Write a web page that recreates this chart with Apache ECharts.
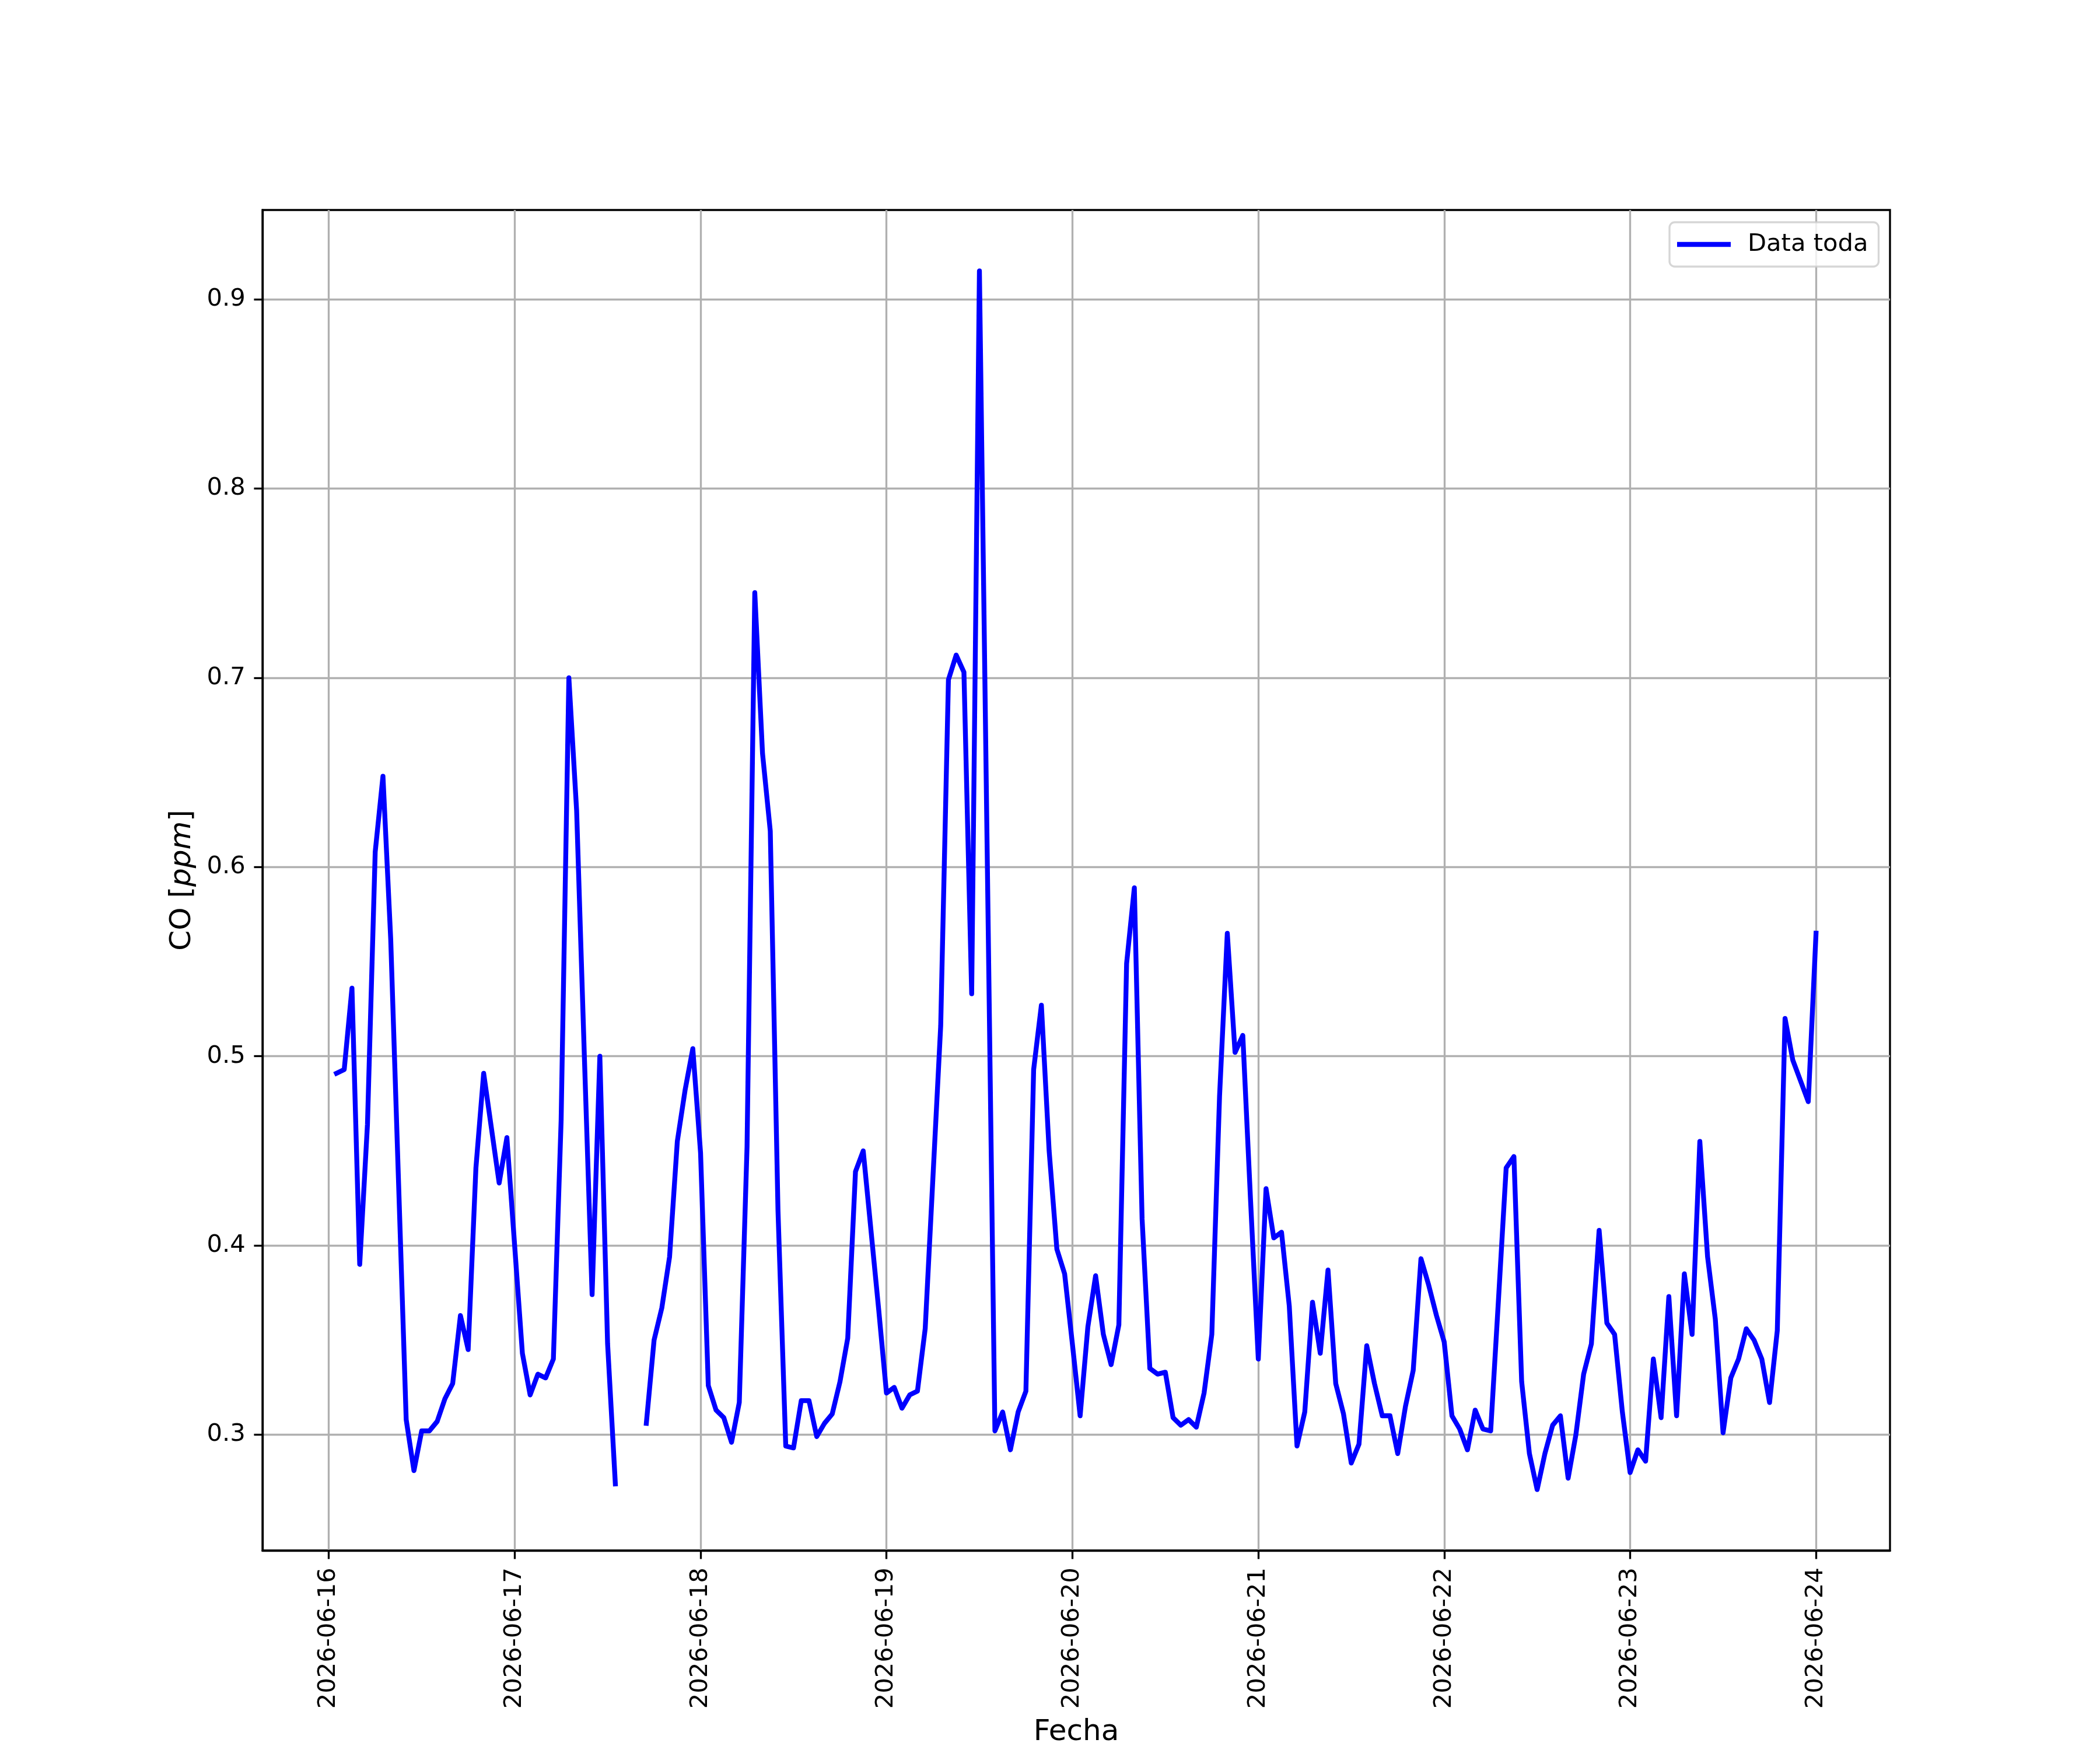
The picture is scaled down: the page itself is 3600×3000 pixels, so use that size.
<!DOCTYPE html>
<html>
<head>
<meta charset="utf-8">
<script src="https://cdn.jsdelivr.net/npm/echarts@6/dist/echarts.min.js"></script>
<style>
  html, body { margin: 0; padding: 0; background: #ffffff; }
  #chart { width: 3600px; height: 3000px; }
</style>
</head>
<body>
<div id="chart"></div>
<script>
// ---- Data: hourly CO readings [ppm], first reading 2026-06-16 01:00, one value per hour ----
const seriesName = 'Data toda';
const firstHour = 1; // hours after 2026-06-16 00:00 of the first reading
const co_0616 = [0.491, 0.493, 0.536, 0.390, 0.464, 0.608, 0.648, 0.562, 0.435, 0.308, 0.281, 0.302,
                 0.302, 0.307, 0.319, 0.327, 0.363, 0.345, 0.441, 0.491, 0.462, 0.433, 0.457, 0.400];
const co_0617 = [0.343, 0.321, 0.332, 0.330, 0.340, 0.466, 0.700, 0.630, 0.500, 0.374, 0.500, 0.348,
                 0.274, null, null, null, 0.306, 0.350, 0.367, 0.394, 0.455, 0.482, 0.504, 0.449];
const co_0618 = [0.326, 0.313, 0.309, 0.296, 0.317, 0.452, 0.745, 0.660, 0.619, 0.418, 0.294, 0.293,
                 0.318, 0.318, 0.299, 0.306, 0.311, 0.328, 0.351, 0.439, 0.450, 0.408, 0.366, 0.322];
const co_0619 = [0.325, 0.314, 0.321, 0.323, 0.356, 0.436, 0.516, 0.699, 0.712, 0.703, 0.533, 0.915,
                 0.609, 0.302, 0.312, 0.292, 0.312, 0.323, 0.493, 0.527, 0.450, 0.398, 0.385, 0.348];
const co_0620 = [0.310, 0.357, 0.384, 0.353, 0.337, 0.358, 0.549, 0.589, 0.414, 0.335, 0.332, 0.333,
                 0.309, 0.305, 0.308, 0.304, 0.322, 0.353, 0.479, 0.565, 0.502, 0.511, 0.424, 0.340];
const co_0621 = [0.430, 0.404, 0.407, 0.368, 0.294, 0.312, 0.370, 0.343, 0.387, 0.327, 0.311, 0.285,
                 0.295, 0.347, 0.327, 0.310, 0.310, 0.290, 0.315, 0.334, 0.393, 0.379, 0.363, 0.349];
const co_0622 = [0.310, 0.303, 0.292, 0.313, 0.303, 0.302, 0.371, 0.441, 0.447, 0.328, 0.290, 0.271,
                 0.290, 0.305, 0.310, 0.277, 0.300, 0.332, 0.348, 0.408, 0.359, 0.353, 0.312, 0.280];
const co_0623 = [0.292, 0.286, 0.340, 0.309, 0.373, 0.310, 0.385, 0.353, 0.455, 0.394, 0.361, 0.301,
                 0.330, 0.340, 0.356, 0.350, 0.340, 0.317, 0.355, 0.520, 0.498, 0.487, 0.476, 0.565];

// ---- Axis tick labels ----
const xTickLabels = ['2026-06-16', '2026-06-17', '2026-06-18', '2026-06-19', '2026-06-20',
                     '2026-06-21', '2026-06-22', '2026-06-23', '2026-06-24'];
const yTickValues = [0.3, 0.4, 0.5, 0.6, 0.7, 0.8, 0.9];
const xTickValues = xTickLabels.map((_, i) => i); // days after 2026-06-16 00:00

const xTitle = 'Fecha';

// ---- Build series data (x = days after 2026-06-16 00:00) ----
const allValues = [].concat(co_0616, co_0617, co_0618, co_0619, co_0620, co_0621, co_0622, co_0623);
const seriesData = allValues.map((v, i) => [(firstHour + i) / 24, v]);

// matplotlib-like 5% margins
const xs = seriesData.map(d => d[0]);
const ys = allValues.filter(v => v != null);
const xMinD = Math.min(...xs), xMaxD = Math.max(...xs);
const yMinD = Math.min(...ys), yMaxD = Math.max(...ys);
const xPad = (xMaxD - xMinD) * 0.05;
const yPad = (yMaxD - yMinD) * 0.05;

const FONT = 'DejaVu Sans';
const PT = 300 / 72; // px per point at 300 dpi

const chart = echarts.init(document.getElementById('chart'), null, { renderer: 'canvas', devicePixelRatio: 1 });

chart.setOption({
  animation: false,
  backgroundColor: '#ffffff',
  textStyle: { fontFamily: FONT },
  grid: {
    left: 450, top: 360, width: 2790, height: 2310,
    show: true, borderColor: '#000000', borderWidth: 0.8 * PT, backgroundColor: 'transparent'
  },
  legend: {
    data: [seriesName],
    left: 2862, top: 381,
    orient: 'vertical',
    icon: 'rect',
    itemWidth: 92, itemHeight: 2 * PT,
    padding: [13, 18, 13, 13],
    backgroundColor: 'rgba(255,255,255,0.8)',
    borderColor: 'rgba(204,204,204,0.8)',
    borderWidth: 0.8 * PT,
    borderRadius: 9,
    textStyle: { fontFamily: FONT, fontSize: 10 * PT, color: '#000000', lineHeight: 50, padding: [0, 0, 0, 24] }
  },
  xAxis: {
    type: 'value',
    min: xMinD - xPad,
    max: xMaxD + xPad,
    splitNumber: 8,
    name: xTitle,
    nameLocation: 'middle',
    nameGap: 287,
    nameTextStyle: { fontFamily: FONT, fontSize: 12 * PT, color: '#000000' },
    axisLine: { show: true, onZero: false, lineStyle: { color: '#000000', width: 0.8 * PT } },
    axisTick: { show: true, inside: false, length: 3.5 * PT, customValues: xTickValues,
                lineStyle: { color: '#000000', width: 0.8 * PT } },
    axisLabel: {
      show: true, rotate: 90, margin: 7 * PT, customValues: xTickValues,
      fontFamily: FONT, fontSize: 10 * PT, color: '#000000',
      formatter: v => xTickLabels[Math.round(v)] || ''
    },
    splitLine: { show: true, customValues: xTickValues,
                 lineStyle: { color: '#b0b0b0', width: 0.8 * PT } }
  },
  yAxis: {
    type: 'value',
    min: yMinD - yPad,
    max: yMaxD + yPad,
    splitNumber: 7,
    name: '{n|CO [}{i|ppm}{n|]}',
    nameLocation: 'middle',
    nameGap: 112,
    nameRotate: 90,
    nameTextStyle: {
      fontFamily: FONT, fontSize: 12 * PT, color: '#000000',
      rich: {
        n: { fontFamily: FONT, fontSize: 12 * PT, color: '#000000' },
        i: { fontFamily: FONT, fontSize: 12 * PT, fontStyle: 'italic', color: '#000000' }
      }
    },
    axisLine: { show: true, onZero: false, lineStyle: { color: '#000000', width: 0.8 * PT } },
    axisTick: { show: true, inside: false, length: 3.5 * PT, customValues: yTickValues,
                lineStyle: { color: '#000000', width: 0.8 * PT } },
    axisLabel: {
      show: true, margin: 7 * PT, customValues: yTickValues,
      fontFamily: FONT, fontSize: 10 * PT, color: '#000000',
      formatter: v => v.toFixed(1)
    },
    splitLine: { show: true, customValues: yTickValues,
                 lineStyle: { color: '#b0b0b0', width: 0.8 * PT } }
  },
  series: [{
    name: seriesName,
    type: 'line',
    data: seriesData,
    showSymbol: false,
    symbol: 'none',
    connectNulls: false,
    clip: true,
    z: 3,
    itemStyle: { color: '#0000ff' },
    lineStyle: { color: '#0000ff', width: 2 * PT, cap: 'square', join: 'round' }
  }]
});
</script>
</body>
</html>
